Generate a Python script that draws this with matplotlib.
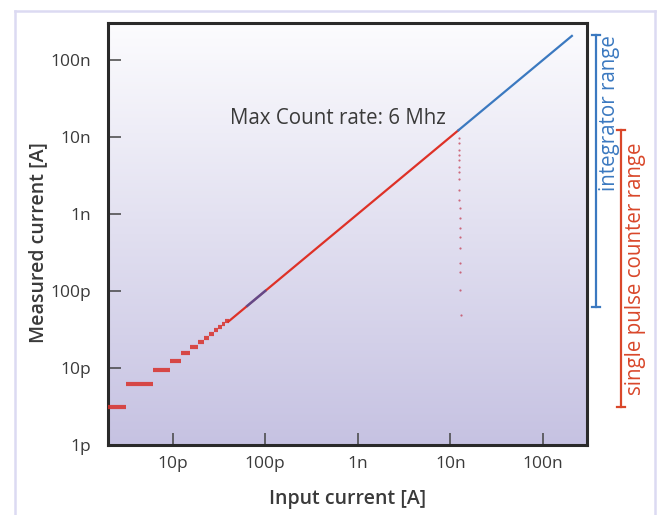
import numpy as np
import matplotlib
matplotlib.use("Agg")
import matplotlib.pyplot as plt
from matplotlib.lines import Line2D

plt.rcParams["font.family"] = ["Open Sans", "DejaVu Sans"]

# quantised low-current steps (pA): level and input span
step_level = [3.1, 6.2, 9.3, 12.4, 15.5, 18.6, 21.7, 24.8, 27.9, 31.0, 34.1, 37.2, 40.3]
step_start = [1.5, 3.1, 6.2, 9.3, 12.4, 15.5, 18.6, 21.7, 24.8, 27.9, 31.0, 34.1, 37.2]

# counter (red) and integrator (blue) segments, input == measured [A]
counter_x = [40e-12, 12.2e-9]
integrator_x = [12.2e-9, 2.05e-7]
overlap_x = [6.4e-11, 1.0e-10]

# saturation drop-off of the counter above max count rate
dropoff_x = [12.3e-9, 12.3e-9, 12.4e-9, 12.4e-9, 12.4e-9, 12.4e-9, 12.5e-9, 12.5e-9,
             12.5e-9, 12.5e-9, 12.6e-9, 12.6e-9, 12.6e-9, 12.7e-9, 12.7e-9, 12.7e-9,
             12.8e-9, 12.8e-9, 12.9e-9]
dropoff_y = [9.7e-9, 8.4e-9, 6.8e-9, 5.8e-9, 5.0e-9, 4.1e-9, 3.5e-9, 2.8e-9,
             2.05e-9, 1.5e-9, 1.2e-9, 8.9e-10, 6.6e-10, 5.0e-10, 3.6e-10, 2.3e-10,
             1.77e-10, 1.03e-10, 4.9e-11]

# range bars on the right side [A]
integrator_range = [6.2e-11, 2.1e-7]
counter_range = [3.1e-12, 1.24e-8]

x_ticks = [1e-11, 1e-10, 1e-9, 1e-8, 1e-7]
x_labels = ["10p", "100p", "1n", "10n", "100n"]
y_ticks = [1e-12, 1e-11, 1e-10, 1e-9, 1e-8, 1e-7]
y_labels = ["1p", "10p", "100p", "1n", "10n", "100n"]

RED = "#de3127"
BLUE = "#3b79c0"
TEXT = "#3a3a3a"

fig = plt.figure(figsize=(6.62, 5.15), dpi=100)
ax = fig.add_axes([0.163, 0.136, 0.724, 0.819])

# gradient background
top = np.array([252, 252, 254]) / 255
bottom = np.array([198, 194, 226]) / 255
t = np.linspace(0, 1, 256)[:, None]
grad = (top * (1 - t) + bottom * t)[:, None, :]
ax.imshow(grad, extent=[0, 1, 0, 1], transform=ax.transAxes,
          aspect="auto", zorder=0, interpolation="bilinear")

ax.set_xscale("log")
ax.set_yscale("log")
ax.set_xlim(2e-12, 3e-7)
ax.set_ylim(1e-12, 3e-7)

# steps
for lv, st in zip(step_level, step_start):
    ax.plot([st * 1e-12, lv * 1e-12], [lv * 1e-12, lv * 1e-12],
            color="#d8302a", lw=3.0, solid_capstyle="butt", zorder=3, alpha=0.85)

ax.plot(counter_x, counter_x, color=RED, lw=1.6, zorder=3)
ax.plot(integrator_x, integrator_x, color=BLUE, lw=1.6, zorder=3)
ax.plot(overlap_x, overlap_x, color="#3b50a8", lw=1.8, zorder=4, alpha=0.75)
ax.scatter(dropoff_x, dropoff_y, s=2.5, color="#c2354a", alpha=0.7, zorder=3,
           linewidths=0)

ax.text(4.2e-11, 1.45e-8, "Max Count rate: 6 Mhz", fontsize=14.8, color=TEXT,
        ha="left", va="baseline")

ax.set_xticks(x_ticks)
ax.set_xticklabels(x_labels)
ax.set_yticks(y_ticks)
ax.set_yticklabels(y_labels)
ax.minorticks_off()
ax.tick_params(axis="both", direction="in", length=9, width=1.1, color="#444444",
               labelsize=12.5, labelcolor=TEXT)
ax.tick_params(axis="x", pad=8)
ax.tick_params(axis="y", pad=12)
for sp in ax.spines.values():
    sp.set_linewidth(2.2)
    sp.set_color("#2a2a2a")

ax.set_xlabel("Input current [A]", fontsize=14, fontweight="semibold", color=TEXT,
              labelpad=12)
ax.set_ylabel("Measured current [A]", fontsize=14, fontweight="semibold", color=TEXT)
ax.yaxis.set_label_coords(-0.124, 0.48)

# range bars outside the axes
trans = ax.get_yaxis_transform()
bars = [(1.018, integrator_range, BLUE, "integrator range", 1.046, "top"),
        (1.07, counter_range, "#d9472a", "single pulse counter range", 1.100, "center")]
for x_off, rng, col, label, txt_off, va in bars:
    ax.plot([x_off, x_off], rng, color=col, lw=1.6, transform=trans, clip_on=False)
    for v in rng:
        ax.plot([x_off - 0.008, x_off + 0.008], [v, v], color=col, lw=1.6,
                transform=trans, clip_on=False)
    y_txt = rng[1] if va == "top" else np.sqrt(rng[0] * rng[1])
    ax.text(txt_off, y_txt, label, rotation=90, color=col, fontsize=14.8,
            ha="center", va=va, transform=trans)

# outer frame
frame = "#dcdaf2"
fig.add_artist(Line2D([15 / 662, 15 / 662], [0, 1 - 11 / 515], color=frame, lw=1.8))
fig.add_artist(Line2D([655 / 662, 655 / 662], [0, 1 - 11 / 515], color=frame, lw=1.8))
fig.add_artist(Line2D([15 / 662, 655 / 662], [1 - 11 / 515, 1 - 11 / 515],
                      color=frame, lw=1.8))

fig.savefig("out.png", dpi=100)
